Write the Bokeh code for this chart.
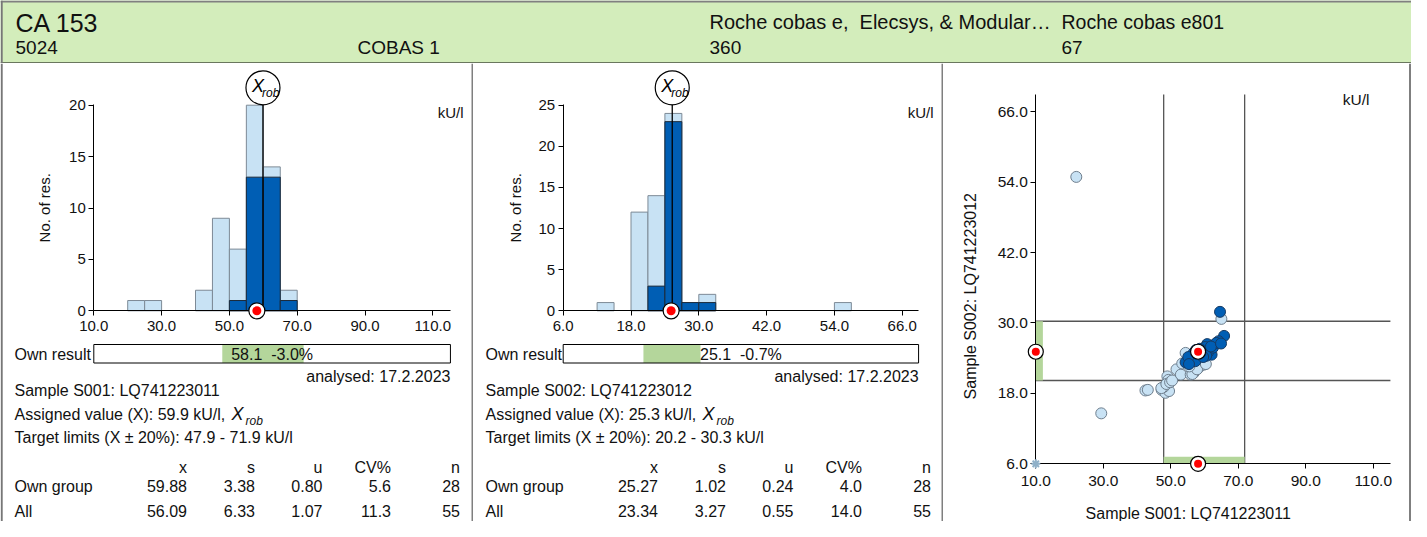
import math
from bokeh.plotting import figure
from bokeh.layouts import column, row
from bokeh.models import Range1d, LinearAxis, FixedTicker, PrintfTickFormatter
from bokeh.core.properties import value
from bokeh.embed import file_html
from bokeh.resources import INLINE

FONT = "Liberation Sans"
HEADER_GREEN = "#d3edbb"
LIMIT_GREEN = "#b4d69b"
LIGHT = "#c8e2f4"
DARK = "#005eb4"

# header texts
analyte = "CA 153"
lab_no = "5024"
device = "COBAS 1"
method = "Roche cobas e,\u00a0 Elecsys, & Modular\u2026"
instrument = "Roche cobas e801"
method_count = "360"
instrument_count = "67"
unit = "kU/l"
analysed = "analysed: 17.2.2023"

# sample S001
s1_name = "Sample S001: LQ741223011"
s1_bin_left = [20, 25, 40, 45, 50, 55, 60, 65]
s1_bin_width = 5
s1_all = [1, 1, 2, 9, 6, 20, 14, 2]
s1_own = [0, 0, 0, 0, 1, 13, 13, 1]
s1_assigned = 59.9
s1_result = 58.1
s1_deviation = -3.0
s1_low, s1_high = 47.9, 71.9
s1_xticks = [10, 30, 50, 70, 90, 110]
s1_yticks = [0, 5, 10, 15, 20]
s1_own_stats = ["59.88", "3.38", "0.80", "5.6", "28"]
s1_all_stats = ["56.09", "6.33", "1.07", "11.3", "55"]

# sample S002
s2_name = "Sample S002: LQ741223012"
s2_bin_left = [12, 18, 21, 24, 27, 30, 54]
s2_bin_width = 3
s2_all = [1, 12, 14, 24, 1, 2, 1]
s2_own = [0, 0, 3, 23, 1, 1, 0]
s2_assigned = 25.3
s2_result = 25.1
s2_deviation = -0.7
s2_low, s2_high = 20.2, 30.3
s2_xticks = [6, 18, 30, 42, 54, 66]
s2_yticks = [0, 5, 10, 15, 20, 25]
s2_own_stats = ["25.27", "1.02", "0.24", "4.0", "28"]
s2_all_stats = ["23.34", "3.27", "0.55", "14.0", "55"]

stat_names = ["x", "s", "u", "CV%", "n"]

# youden plot: own group and other results (S001, S002)
own_s1 = [64.6, 65.8, 64.2, 63.0, 60.8, 61.6, 62.1, 59.3, 57.8, 56.4, 55.9, 57.3, 54.4, 58.1,
          60.2, 61.0, 62.5, 63.5, 59.0, 57.5, 56.8, 58.6, 60.5, 61.9, 55.2, 59.6, 64.9, 55.4]
own_s2 = [31.9, 27.8, 26.9, 26.3, 26.4, 25.5, 24.6, 25.5, 24.6, 24.3, 24.1, 23.5, 23.3, 25.1,
          25.9, 25.0, 25.8, 26.6, 24.8, 25.4, 24.9, 25.6, 24.4, 26.0, 24.2, 24.2, 26.5, 23.0]
other_s1 = [22.0, 29.4, 42.5, 43.2, 47.3, 48.4, 49.5, 49.0, 47.9, 47.2, 49.3, 48.7, 49.8, 50.4,
            51.7, 53.0, 53.4, 54.4, 55.9, 56.8, 58.3, 59.8, 56.4, 57.8, 55.5, 60.4, 65.0]
other_s2 = [54.9, 14.6, 18.5, 18.6, 18.6, 18.1, 18.4, 20.9, 19.1, 18.9, 20.3, 19.6, 19.9, 20.2,
            22.1, 21.2, 23.1, 24.9, 21.2, 21.5, 22.4, 22.9, 21.3, 22.1, 22.6, 23.0, 30.7]
youden_xticks = [10, 30, 50, 70, 90, 110]
youden_yticks = [6, 18, 30, 42, 54, 66]

BODY_H = 458


def make_panel(width, x_anchor, x_px, x_ppu, y_anchor, y_px, y_ppu):
    # frame fills the whole panel; data anchor at pixel position
    xs = x_anchor - x_px / x_ppu
    ye = y_anchor + y_px / y_ppu
    p = figure(width=width, height=BODY_H, output_backend="svg", toolbar_location=None,
               x_range=Range1d(xs, xs + width / x_ppu),
               y_range=Range1d(ye - BODY_H / y_ppu, ye),
               x_axis_location=None, y_axis_location=None, min_border=0,
               outline_line_color=None, background_fill_color="white",
               border_fill_color="white")
    p.xgrid.visible = False
    p.ygrid.visible = False
    p.extra_x_ranges = {"px": Range1d(0, width)}
    p.extra_y_ranges = {"px": Range1d(BODY_H, 0)}
    return p, (lambda px: ye - px / y_ppu)


def txt(p, x, y, s, size="16px", align="left", style="normal", angle=0.0, xr="px", yr="px"):
    p.text(x=[x], y=[y], text=[s], text_font=value(FONT), text_font_size=size,
           text_align=align, text_baseline="middle", text_font_style=style,
           angle=angle, text_color="#111111", x_range_name=xr, y_range_name=yr)


def add_axes(p, xloc, xbounds, xticks, xfmt, yloc, ybounds, yticks, yfmt, size, xstand=5):
    xa = LinearAxis(fixed_location=xloc, bounds=xbounds, ticker=FixedTicker(ticks=xticks),
                    formatter=PrintfTickFormatter(format=xfmt))
    ya = LinearAxis(fixed_location=yloc, bounds=ybounds, ticker=FixedTicker(ticks=yticks),
                    formatter=PrintfTickFormatter(format=yfmt))
    for a in (xa, ya):
        a.axis_line_color = "black"
        a.major_tick_line_color = "black"
        a.major_tick_out = 5
        a.major_tick_in = 0
        a.minor_tick_line_color = None
        a.major_label_text_font = FONT
        a.major_label_text_font_size = size
        a.major_label_text_color = "#111111"
    ya.major_label_standoff = 3
    xa.major_label_standoff = xstand
    p.add_layout(xa, "below")
    p.add_layout(ya, "left")


def own_marker(p, x, y, outer, inner):
    r1 = p.scatter(x, y, size=outer, fill_color="white", line_color="black", line_width=1.2)
    r2 = p.scatter(x, y, size=inner, fill_color="#ff0000", line_color=None)
    r1.level = "overlay"
    r2.level = "overlay"


def histogram_panel(width, left_line, x_px, x_ppu, y_ppu, x_end, y_top, bins, bw, all_c, own_c,
                    assigned, result, dev, low, high, xticks, yticks, name, own_stats, all_stats):
    x0 = xticks[0]
    p, to_data_y = make_panel(width, x0, x_px, x_ppu, 0, 247.3, y_ppu)
    add_axes(p, 0, (x0, x_end), xticks, "%.1f", x0, (0, y_top), yticks, "%d", "15px")

    right = [b + bw for b in bins]
    p.quad(left=bins, right=right, bottom=0, top=all_c, fill_color=LIGHT,
           line_color="#7d8a96", line_width=1)
    ol = [b for b, c in zip(bins, own_c) if c > 0]
    orr = [b + bw for b, c in zip(bins, own_c) if c > 0]
    oc = [c for c in own_c if c > 0]
    p.quad(left=ol, right=orr, bottom=0, top=oc, fill_color=DARK, line_color="#1b2a3a", line_width=1)

    # robust mean marker
    cy = to_data_y(24.3)
    p.segment(x0=[assigned], y0=[0], x1=[assigned], y1=[cy], line_color="black", line_width=1.3)
    p.scatter([assigned], [cy], size=34, fill_color="white", line_color="black", line_width=1.2)
    p.text(x=[assigned], y=[cy], text=["X"], x_offset=-5, y_offset=-2, text_font=value(FONT),
           text_font_size="18px", text_font_style="italic", text_align="center",
           text_baseline="middle", text_color="black")
    p.text(x=[assigned], y=[cy], text=["rob"], x_offset=-1, y_offset=5, text_font=value(FONT),
           text_font_size="12px", text_font_style="italic", text_align="left",
           text_baseline="middle", text_color="black")

    own_marker(p, [result], [0], 16, 9)

    txt(p, 44, 144.3, "No. of res.", size="15px", align="center", angle=math.pi / 2)
    txt(p, width - 8, 49.3, unit, size="15px", align="right")

    # own result bar
    txt(p, 14, 291, "Own result")
    p.quad(left=[low], right=[high], top=[281], bottom=[299.5], y_range_name="px",
           fill_color=LIMIT_GREEN, line_color=None)
    p.quad(left=[x0], right=[x_end], top=[281], bottom=[299.5], y_range_name="px",
           fill_color=None, line_color="black", line_width=1)
    txt(p, (x0 + x_end) / 2, 290.5, f"{result:.1f}\u00a0 {dev:.1f}%", align="center", xr="default")

    txt(p, x_px + (x_end - x0) * x_ppu, 312.7, analysed, align="right")
    txt(p, 14, 327, name)
    a_text = f"Assigned value (X): {assigned} kU/l,"
    txt(p, 14, 351, a_text)
    txt(p, 231, 350, "X", size="18px", style="italic")
    txt(p, 245, 357, "rob", size="12px", style="italic")
    txt(p, 14, 374.3, f"Target limits (X \u00b1 20%): {low} - {high} kU/l")

    cols = [186.5, 254.5, 322, 390.5, 459.5]
    for cx, h in zip(cols, stat_names):
        txt(p, cx, 403.7, h, align="right")
    txt(p, 14, 422.7, "Own group")
    txt(p, 14, 447.7, "All")
    for cx, v1, v2 in zip(cols, own_stats, all_stats):
        txt(p, cx, 422.7, v1, align="right")
        txt(p, cx, 447.7, v2, align="right")

    p.segment(x0=[left_line[0]], y0=[0], x1=[left_line[0]], y1=[BODY_H], x_range_name="px",
              y_range_name="px", line_color=left_line[1], line_width=left_line[2])
    return p


p1 = histogram_panel(471, (1.2, "#777777", 2), 93.3, 3.39, 10.28, 115.2, 20.1,
                     s1_bin_left, s1_bin_width, s1_all, s1_own, s1_assigned, s1_result,
                     s1_deviation, s1_low, s1_high, s1_xticks, s1_yticks, s1_name,
                     s1_own_stats, s1_all_stats)
p2 = histogram_panel(470, (0.5, "black", 1), 91.7, 5.65, 8.224, 68.9, 25.1,
                     s2_bin_left, s2_bin_width, s2_all, s2_own, s2_assigned, s2_result,
                     s2_deviation, s2_low, s2_high, s2_xticks, s2_yticks, s2_name,
                     s2_own_stats, s2_all_stats)

# youden plot
p3, _ = make_panel(470, 10, 94.3, 3.374, 6, 400.3, 5.867)
yx_end, yy_end = 115.1, 68.95
add_axes(p3, 6, (10, yx_end), youden_xticks, "%.1f", 10, (6, yy_end), youden_yticks, "%.1f",
         "15.5px", xstand=7)
p3.segment(x0=[s1_low, s1_high], y0=[6, 6], x1=[s1_low, s1_high], y1=[yy_end, yy_end],
           line_color="#555555", line_width=1.3)
p3.segment(x0=[10, 10], y0=[s2_low, s2_high], x1=[yx_end, yx_end], y1=[s2_low, s2_high],
           line_color="#555555", line_width=1.3)
p3.quad(left=[s1_low], right=[s1_high], bottom=[6], top=[7.2], fill_color=LIMIT_GREEN, line_color=None)
p3.quad(left=[10], right=[12.1], bottom=[s2_low], top=[s2_high], fill_color=LIMIT_GREEN, line_color=None)
p3.scatter(other_s1, other_s2, size=11, fill_color=LIGHT, line_color="#6f7f8e", line_width=1)
p3.scatter(own_s1, own_s2, size=11, fill_color=DARK, line_color="#163a63", line_width=1)
ast = p3.scatter([10], [6], marker="asterisk", size=9, line_color="#8fb0c8", line_width=2)
ast.level = "overlay"
own_marker(p3, [s1_result], [s2_result], 15, 8)
own_marker(p3, [s1_result], [6], 15, 8)
own_marker(p3, [10], [s2_result], 15, 8)
txt(p3, 428, 36, unit, size="15.5px", align="right")
txt(p3, 29, 232.7, s2_name, align="center", angle=math.pi / 2)
txt(p3, 246.7, 450, s1_name, align="center")
p3.segment(x0=[0.5, 468.5], y0=[0, 0], x1=[0.5, 468.5], y1=[BODY_H, BODY_H], x_range_name="px",
           y_range_name="px", line_color=["black", "#555555"], line_width=[1, 1.5])

# header band
hdr = figure(width=1411, height=63, output_backend="svg", toolbar_location=None,
             x_range=Range1d(0, 1411), y_range=Range1d(63, 0),
             x_axis_location=None, y_axis_location=None, min_border=0,
             outline_line_color=None, background_fill_color=HEADER_GREEN,
             border_fill_color=HEADER_GREEN)
hdr.xgrid.visible = False
hdr.ygrid.visible = False
hdr.segment(x0=[0, 0, 1.2], y0=[1, 62.5, 0], x1=[1411, 1411, 1.2], y1=[1, 62.5, 63],
            line_color=["#808080", "black", "#777777"], line_width=[2, 1, 2])
for x, y, s, size in [(15, 22.3, analyte, "25px"), (15, 46.8, lab_no, "19px"),
                      (357, 46.8, device, "19px"), (709, 21, method, "20px"),
                      (1061, 21, instrument, "19.5px"), (709, 46.8, method_count, "19px"),
                      (1061, 46.8, instrument_count, "19px")]:
    hdr.text(x=[x], y=[y], text=[s], text_font=value(FONT), text_font_size=size,
             text_baseline="middle", text_color="#111111")

layout = column(hdr, row(p1, p2, p3))
open("out.html", "w").write(file_html(layout, INLINE))
